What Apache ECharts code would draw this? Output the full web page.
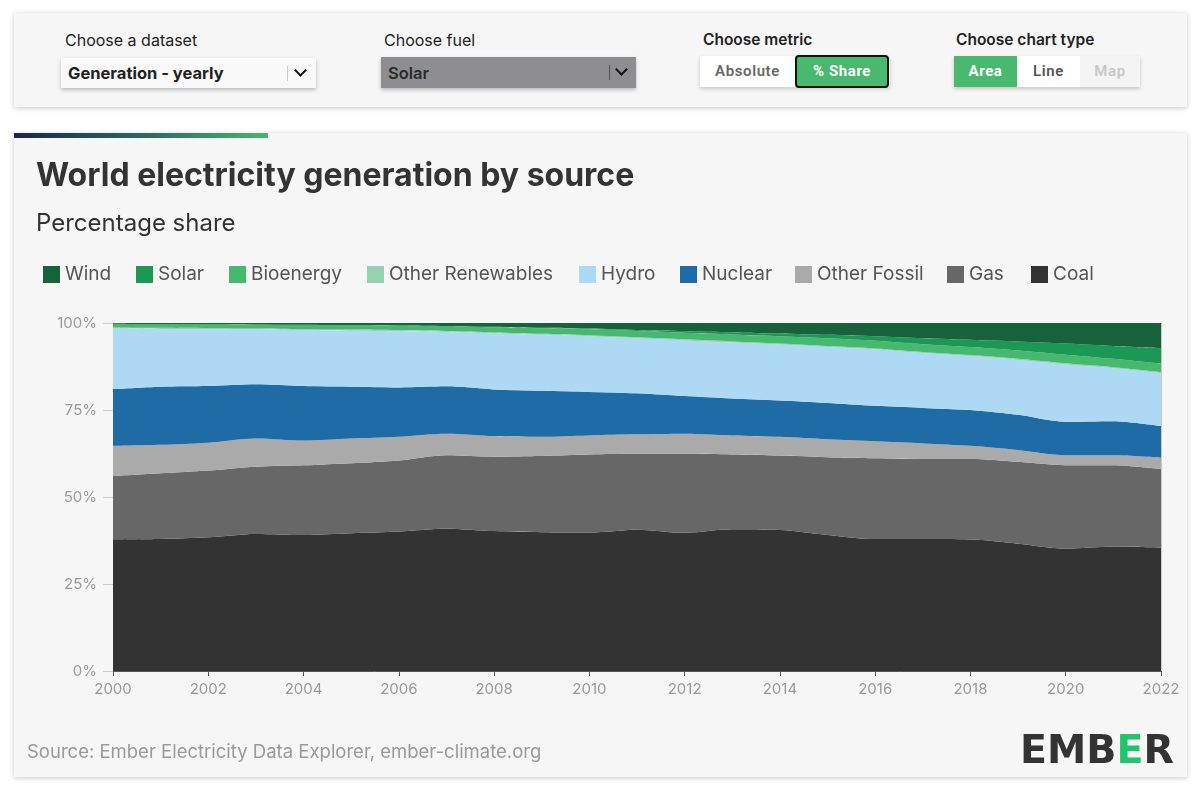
<!DOCTYPE html>
<html>
<head>
<meta charset="utf-8">
<script src="https://cdn.jsdelivr.net/npm/echarts@6/dist/echarts.min.js"></script>
<style>
  html, body { margin:0; padding:0; background:#fff; width:1200px; height:790px; overflow:hidden; font-family: Inter, "Noto Sans", sans-serif; }
  .panel { position:absolute; left:14px; top:13px; width:1173px; height:94px; background:#f6f6f6; box-shadow:0 1px 5px rgba(0,0,0,0.22); }
  .card { position:absolute; left:14px; top:133px; width:1173px; height:644px; background:#f6f6f6; box-shadow:0 1px 5px rgba(0,0,0,0.22); }
  .bar { position:absolute; left:14px; top:133px; width:254px; height:5px; background:linear-gradient(to right,#1b2550,#2c6e62 55%,#47b86f); }
  .lbl { position:absolute; top:31px; font-size:16px; color:#222; line-height:18px; }
  .lbl.b { font-weight:600; font-size:15.5px; }
  .dd { position:absolute; height:30px; box-shadow:0 2px 4px rgba(0,0,0,0.25); }
  .dd .t { position:absolute; left:7px; top:6px; font-size:16.5px; font-weight:700; color:#222; line-height:18px; }
  .dd .sep { position:absolute; top:8px; width:1px; height:15px; background:#bbb; }
  .dd .chev { position:absolute; top:8px; width:7px; height:7px; border-right:2.5px solid #111; border-bottom:2.5px solid #111; transform:rotate(45deg); }
  .btn { position:absolute; height:31px; line-height:31px; text-align:center; font-size:15px; font-weight:600; letter-spacing:0.6px; font-family: Roboto, Inter, sans-serif; }
  #chart { position:absolute; left:14px; top:133px; width:1173px; height:644px; }
</style>
</head>
<body>
<div class="panel"></div>
<div class="lbl" style="left:65px;">Choose a dataset</div>
<div class="lbl" style="left:384px;">Choose fuel</div>
<div class="lbl b" style="left:703px;">Choose metric</div>
<div class="lbl b" style="left:956px;">Choose chart type</div>

<div class="dd" style="left:61px;top:58px;width:255px;background:#f9f9f9;">
  <div class="t">Generation - yearly</div>
  <div class="sep" style="left:226px;background:#ccc;"></div>
  <div class="chev" style="left:235px;"></div>
</div>
<div class="dd" style="left:381px;top:57px;width:255px;height:31px;background:#8e8e90;">
  <div class="t" style="color:#2b2b2b;font-weight:600;top:7px;">Solar</div>
  <div class="sep" style="left:228px;background:#555;"></div>
  <div class="chev" style="left:236px;"></div>
</div>

<div style="position:absolute;left:700px;top:56px;width:190px;height:31px;box-shadow:0 2px 4px rgba(0,0,0,0.18);"></div>
<div class="btn" style="left:700px;top:56px;width:95px;background:#fff;color:#666;">Absolute</div>
<div class="btn" style="left:795px;top:55px;width:90px;height:29px;line-height:29px;background:#48b96f;color:#fff;border:2px solid #111;border-radius:4px;font-weight:700;">% Share</div>

<div style="position:absolute;left:954px;top:56px;width:186px;height:31px;box-shadow:0 2px 4px rgba(0,0,0,0.2);"></div>
<div class="btn" style="left:954px;top:56px;width:63px;background:#48b96f;color:#fff;font-weight:700;">Area</div>
<div class="btn" style="left:1017px;top:56px;width:63px;background:#fff;color:#555;">Line</div>
<div class="btn" style="left:1080px;top:56px;width:60px;background:#f4f4f4;color:#c8c8c8;">Map</div>

<div class="card"></div>
<div class="bar"></div>
<div id="chart"></div>

<script>
// ---- Data (percentage share of world electricity generation) ----
const years = ['2000','2001','2002','2003','2004','2005','2006','2007','2008','2009','2010','2011',
               '2012','2013','2014','2015','2016','2017','2018','2019','2020','2021','2022'];

const coal        = [37.8,37.9,38.4,39.4,39.1,39.6,40.1,40.9,40.2,39.9,39.8,40.6,39.7,40.7,40.5,39.1,37.9,37.9,37.8,36.6,35.2,35.7,35.5];
const gas         = [18.2,18.9,19.2,19.3,20.0,20.1,20.4,21.1,21.4,21.9,22.4,21.8,22.7,21.5,21.4,22.3,23.2,23.0,23.1,23.5,23.9,23.4,22.5];
const otherFossil = [8.7,8.2,8.0,8.1,7.1,7.1,6.8,6.2,5.9,5.5,5.5,5.6,5.8,5.5,5.4,5.2,4.9,4.5,3.8,3.4,2.9,2.9,3.3];
const nuclear     = [16.3,16.7,16.3,15.6,15.7,14.9,14.2,13.6,13.4,13.2,12.5,11.8,10.8,10.6,10.4,10.4,10.2,10.2,10.3,10.1,9.6,9.8,9.1];
const hydro       = [17.4,16.6,16.3,15.7,16.0,16.1,16.1,15.6,16.1,16.1,16.0,15.8,16.0,16.1,16.1,16.1,16.2,15.8,15.5,15.8,16.5,15.2,15.2];
const otherRen    = [0.3,0.3,0.3,0.3,0.3,0.3,0.3,0.3,0.3,0.3,0.3,0.3,0.3,0.3,0.3,0.3,0.3,0.3,0.3,0.3,0.3,0.3,0.3];
const bioenergy   = [1.1,1.1,1.2,1.2,1.3,1.3,1.4,1.4,1.5,1.6,1.7,1.8,1.9,2.0,2.1,2.2,2.2,2.2,2.3,2.4,2.5,2.4,2.4];
const solar       = [0.0,0.0,0.0,0.0,0.0,0.0,0.0,0.0,0.1,0.1,0.2,0.3,0.5,0.6,0.8,1.0,1.3,1.7,2.1,2.6,3.2,3.7,4.5];
const wind        = [0.2,0.3,0.3,0.4,0.5,0.6,0.7,0.9,1.1,1.4,1.6,2.0,2.3,2.7,3.0,3.4,3.8,4.4,4.8,5.3,5.9,6.6,7.2];

const yTicks = [0, 25, 50, 75, 100];

// ---- Series definitions (bottom of stack first) ----
const seriesDefs = [
  { name:'Coal',             data:coal,        color:'#333333' },
  { name:'Gas',              data:gas,         color:'#676767' },
  { name:'Other Fossil',     data:otherFossil, color:'#aaaaaa' },
  { name:'Nuclear',          data:nuclear,     color:'#1f6ba6' },
  { name:'Hydro',            data:hydro,       color:'#aed9f4' },
  { name:'Other Renewables', data:otherRen,    color:'#95d2b1' },
  { name:'Bioenergy',        data:bioenergy,   color:'#47b86f' },
  { name:'Solar',            data:solar,       color:'#1b9853' },
  { name:'Wind',             data:wind,        color:'#17623a' }
];

const legendOrder = ['Wind','Solar','Bioenergy','Other Renewables','Hydro','Nuclear','Other Fossil','Gas','Coal'];
const legendLeft  = [24, 117, 210, 348, 560, 661, 776, 928, 1012];

const chart = echarts.init(document.getElementById('chart'), null, { renderer:'canvas' });

const option = {
  backgroundColor: 'transparent',
  animation: false,
  title: [
    { text:'World electricity generation by source', left:17, top:22,
      textStyle:{ fontFamily:'Inter', fontSize:32, fontWeight:'bold', color:'#333' } },
    { text:'Percentage share', left:17, top:74,
      textStyle:{ fontFamily:'Inter', fontSize:24, fontWeight:'normal', color:'#333' } }
  ],
  legend: legendOrder.map((n, i) => ({
    data:[n], left:legendLeft[i], top:127, icon:'rect', itemWidth:17, itemHeight:17,
    selectedMode:false,
    textStyle:{ fontFamily:'Inter', fontSize:19, color:'#555', padding:[0,0,0,0] }
  })),
  grid: { left:99, right:26, top:190, bottom:106, containLabel:false },
  xAxis: {
    type:'category', data:years, boundaryGap:false,
    axisLine:{ show:true, lineStyle:{ color:'#555', width:1 } },
    axisTick:{ show:true, interval:1, length:5, lineStyle:{ color:'#555' } },
    axisLabel:{ interval:1, color:'#999', fontFamily:'Inter', fontSize:15, margin:11 },
    splitLine:{ show:false }
  },
  yAxis: [
    {
      type:'value', min:yTicks[0], max:yTicks[yTicks.length-1], interval:25,
      axisLine:{ show:true, lineStyle:{ color:'#ccc' } },
      axisTick:{ show:true, length:10, lineStyle:{ color:'#ccc' } },
      axisLabel:{ formatter:'{value}%', color:'#999', fontFamily:'Inter', fontSize:15, margin:16 },
      splitLine:{ show:false }
    },
    {
      type:'value', min:0, max:100, position:'right',
      axisLine:{ show:true, lineStyle:{ color:'#c8c8c8' } },
      axisTick:{ show:false }, axisLabel:{ show:false }, splitLine:{ show:false }
    }
  ],
  series: seriesDefs.map(s => ({
    name:s.name, type:'line', stack:'total', data:s.data,
    smooth:0.3, symbol:'none', yAxisIndex:0,
    lineStyle:{ width:0 },
    itemStyle:{ color:s.color },
    areaStyle:{ color:s.color, opacity:1 },
    emphasis:{ disabled:true }
  })),
  graphic: [
    { type:'text', left:13, top:610,
      style:{ text:'Source: Ember Electricity Data Explorer, ember-climate.org', fill:'#9a9a9a',
              font:'18.5px Inter' } },
    { type:'text', left:1006, top:600,
      style:{ text:'{d|EMB}{g|E}{d|R}',
              rich:{ d:{ fill:'#333', font:'bold 39.5px "DejaVu Sans"' },
                     g:{ fill:'#22c56a', font:'bold 39.5px "DejaVu Sans"' } } } }
  ]
};
chart.setOption(option);
</script>
</body>
</html>
